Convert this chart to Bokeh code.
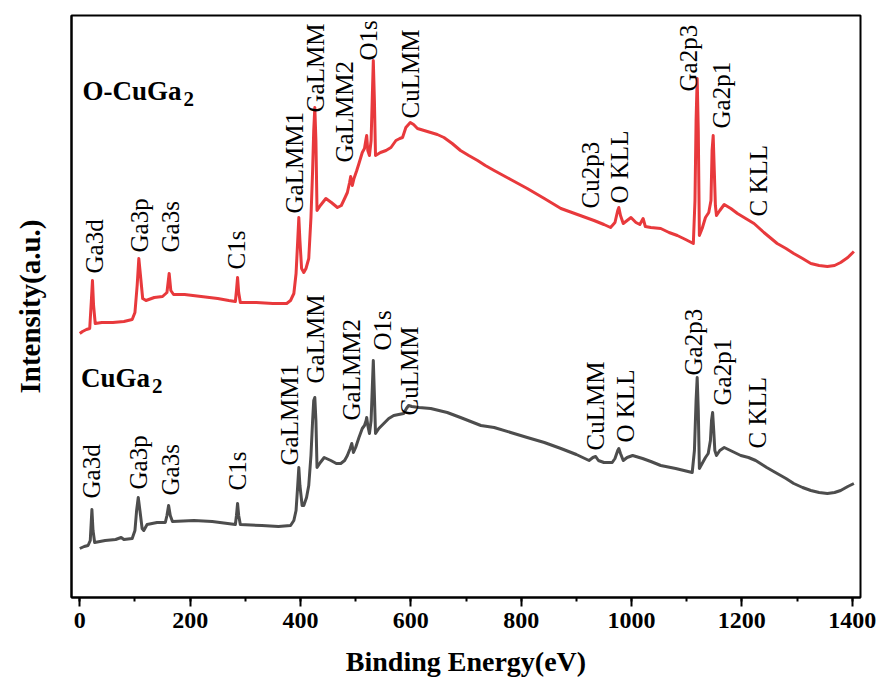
import math
from bokeh.plotting import figure
from bokeh.models import Range1d, SingleIntervalTicker, FixedTicker
from bokeh.core.properties import value
from bokeh.embed import file_html
from bokeh.resources import INLINE

# ---------------- data ----------------
energy_o = [0, 5, 12, 18, 21, 23, 25, 28, 40, 60, 80, 95, 100, 104, 107, 110, 114, 120, 135, 150,
            158, 162, 165, 170, 190, 220, 250, 270, 282, 284, 286, 288, 291, 320, 350, 375, 382, 388,
            392, 395, 397, 399, 402, 406, 410, 415, 419, 422, 424, 426, 428, 430, 436, 446, 456, 467,
            474, 480, 485, 489, 491, 494, 497, 502, 506, 512, 516, 519, 520, 522, 525, 528, 530, 532,
            534, 536, 545, 555, 564, 573, 580, 585, 591, 599, 605, 612, 624, 636, 648, 660, 675, 690,
            705, 721, 735, 751, 781, 811, 842, 872, 902, 932, 950, 962, 970, 975, 977, 980, 985, 992,
            999, 1008, 1015, 1021, 1025, 1035, 1053, 1068, 1083, 1098, 1112, 1115, 1117, 1119, 1121,
            1123, 1128, 1134, 1140, 1144, 1146, 1148, 1150, 1152, 1154, 1160, 1168, 1180, 1192, 1207,
            1222, 1240, 1264, 1280, 1294, 1310, 1325, 1340, 1355, 1368, 1379, 1392, 1403]
intensity_o = [264, 266, 268, 269, 297, 317, 292, 274, 275, 275, 276, 278, 285, 312, 339, 322, 299, 297, 300, 301,
               305, 324, 307, 303, 303, 301, 299, 297, 296, 307, 320, 305, 295, 295, 294, 294, 297, 304,
               324, 357, 380, 357, 329, 325, 329, 339, 380, 427, 467, 490, 457, 387, 392, 399, 395, 390,
               392, 399, 405, 415, 421, 412, 419, 427, 434, 445, 449, 459, 462, 447, 442, 457, 497, 537,
               497, 442, 445, 447, 450, 457, 459, 460, 470, 475, 473, 469, 467, 465, 463, 460, 454, 447,
               442, 437, 432, 427, 418, 409, 399, 389, 383, 377, 373, 370, 375, 387, 390, 382, 374, 377,
               380, 375, 373, 379, 371, 370, 369, 365, 362, 358, 354, 397, 477, 519, 467,
               362, 369, 380, 385, 397, 447, 462, 427, 392, 382, 387, 393, 389, 384, 379,
               374, 365, 354, 349, 344, 339, 334, 332, 331, 332, 335, 340, 346]

energy_c = [0, 8, 15, 19, 22, 24, 27, 46, 65, 75, 80, 95, 100, 103, 106, 109, 113, 116, 122, 140,
            155, 158, 161, 164, 168, 207, 240, 268, 282, 284, 286, 288, 291, 330, 360, 382, 388, 392,
            395, 397, 399, 403, 406, 411, 415, 419, 422, 424, 426, 428, 430, 436, 443, 455, 465, 473,
            480, 485, 490, 493, 496, 500, 506, 512, 516, 519, 520, 522, 525, 528, 530, 532, 534, 536,
            542, 551, 560, 569, 578, 587, 592, 596, 602, 615, 636, 666, 690, 727, 751, 781, 811, 842,
            872, 900, 923, 930, 935, 940, 950, 965, 970, 975, 977, 980, 985, 992, 1002, 1020, 1035,
            1053, 1080, 1110, 1114, 1117, 1119, 1121, 1123, 1128, 1134, 1139, 1143, 1145, 1147, 1149,
            1151, 1154, 1160, 1168, 1183, 1198, 1212, 1225, 1245, 1264, 1280, 1294, 1310, 1325, 1340,
            1355, 1368, 1379, 1392, 1403]
intensity_c = [49, 51, 52, 57, 88, 67, 55, 57, 58, 60, 58, 59, 67, 87, 100, 87, 69, 67, 73, 75,
               75, 82, 92, 82, 76, 77, 76, 74, 73, 82, 94, 82, 73, 72, 71, 72, 77, 87,
               112, 130, 112, 92, 92, 100, 112, 142, 177, 197, 200, 177, 130, 135, 140, 137, 134, 134,
               137, 142, 149, 154, 145, 150, 160, 169, 172, 177, 180, 172, 164, 177, 207, 237, 202, 164,
               169, 174, 179, 182, 183, 184, 189, 192, 191, 190, 189, 185, 180, 172, 170, 165, 160, 155,
               149, 143, 137, 140, 141, 137, 135, 135, 139, 147, 149, 144, 137, 140, 142, 139, 136,
               132, 129, 125, 147, 197, 220, 187, 129, 134, 140, 144, 157, 177, 185, 167,
               147, 142, 147, 150, 146, 142, 140, 137, 130, 124, 119, 114, 110, 107, 105,
               104, 105, 107, 111, 114]

labels_o = ["Ga3d", "Ga3p", "Ga3s", "C1s", "GaLMM1", "GaLMM", "GaLMM2", "O1s", "CuLMM",
            "Cu2p3", "O KLL", "Ga2p3", "Ga2p1", "C KLL"]
label_x_o = [26, 109, 165, 284, 390, 428, 479, 524, 599, 925, 979, 1104, 1163, 1230]
label_y_o = [324, 345, 345, 328, 384, 485, 435, 537, 479, 389, 394, 506, 469, 381]

labels_c = ["Ga3d", "Ga3p", "Ga3s", "C1s", "GaLMM1", "GaLMM", "GaLMM2", "O1s", "CuLMM",
            "CuLMM", "O KLL", "Ga2p3", "Ga2p1", "C KLL"]
label_x_c = [21, 106, 164, 286, 381, 428, 492, 549, 597, 935, 989, 1113, 1165, 1228]
label_y_c = [99, 108, 102, 107, 132, 214, 177, 247, 182, 147, 155, 222, 192, 149]

sample_names = ["O-CuGa", "CuGa"]
sample_x = [5, 2]
sample_y = [507, 220]

x_ticks_interval = 200

# ---------------- figure ----------------
p = figure(width=879, height=686, output_backend="svg", toolbar_location=None,
           x_range=Range1d(-15, 1415), y_range=Range1d(0, 582),
           min_border_left=71, min_border_right=19, min_border_top=15, min_border_bottom=89)
p.background_fill_color = "white"
p.border_fill_color = "white"
p.outline_line_color = "black"
p.outline_line_width = 2
p.xgrid.visible = False
p.ygrid.visible = False

RED = "#E8393C"
GRAY = "#4D4D4D"

p.line(energy_o, intensity_o, line_color=RED, line_width=3, line_join="round")
p.line(energy_c, intensity_c, line_color=GRAY, line_width=3, line_join="round")

serif = value("Liberation Serif")
p.text(x=label_x_o, y=label_y_o, text=labels_o, angle=math.pi / 2, text_align="left",
       text_baseline="middle", text_font=serif, text_font_size="25px", text_color="black")
p.text(x=label_x_c, y=label_y_c, text=labels_c, angle=math.pi / 2, text_align="left",
       text_baseline="middle", text_font=serif, text_font_size="25px", text_color="black")

# sample titles with subscript 2
p.text(x=sample_x, y=sample_y, text=sample_names, text_align="left", text_baseline="alphabetic",
       text_font=serif, text_font_style="bold", text_font_size="27px", text_color="black")
p.text(x=[sample_x[0]], y=[sample_y[0]], text=["2"], x_offset=101, y_offset=8,
       text_align="left", text_baseline="alphabetic", text_font=serif,
       text_font_style="bold", text_font_size="21px", text_color="black")
p.text(x=[sample_x[1]], y=[sample_y[1]], text=["2"], x_offset=71, y_offset=8,
       text_align="left", text_baseline="alphabetic", text_font=serif,
       text_font_style="bold", text_font_size="21px", text_color="black")

# x axis
xa = p.xaxis[0]
xa.ticker = SingleIntervalTicker(interval=x_ticks_interval, num_minor_ticks=2)
xa.axis_label = "Binding Energy(eV)"
xa.axis_label_text_font = "Liberation Serif"
xa.axis_label_text_font_style = "bold"
xa.axis_label_text_font_size = "28px"
xa.axis_label_text_color = "black"
xa.axis_label_standoff = 15
xa.major_label_text_font = "Liberation Serif"
xa.major_label_text_font_style = "bold"
xa.major_label_text_font_size = "24px"
xa.major_label_text_color = "black"
xa.major_label_standoff = 6
xa.axis_line_width = 2
xa.axis_line_color = "black"
xa.major_tick_line_width = 2
xa.major_tick_line_color = "black"
xa.major_tick_in = 0
xa.major_tick_out = 9
xa.minor_tick_line_width = 2
xa.minor_tick_line_color = "black"
xa.minor_tick_in = 0
xa.minor_tick_out = 4

# y axis (no ticks)
ya = p.yaxis[0]
ya.ticker = FixedTicker(ticks=[])
ya.axis_label = "Intensity(a.u.)"
ya.axis_label_text_font = "Liberation Serif"
ya.axis_label_text_font_style = "bold"
ya.axis_label_text_font_size = "29px"
ya.axis_label_text_color = "black"
ya.axis_label_standoff = 26
ya.axis_line_width = 2
ya.axis_line_color = "black"
ya.major_tick_in = 0
ya.major_tick_out = 0
ya.minor_tick_in = 0
ya.minor_tick_out = 0
ya.major_label_text_font_size = "0px"

open("out.html", "w").write(file_html(p, INLINE))
